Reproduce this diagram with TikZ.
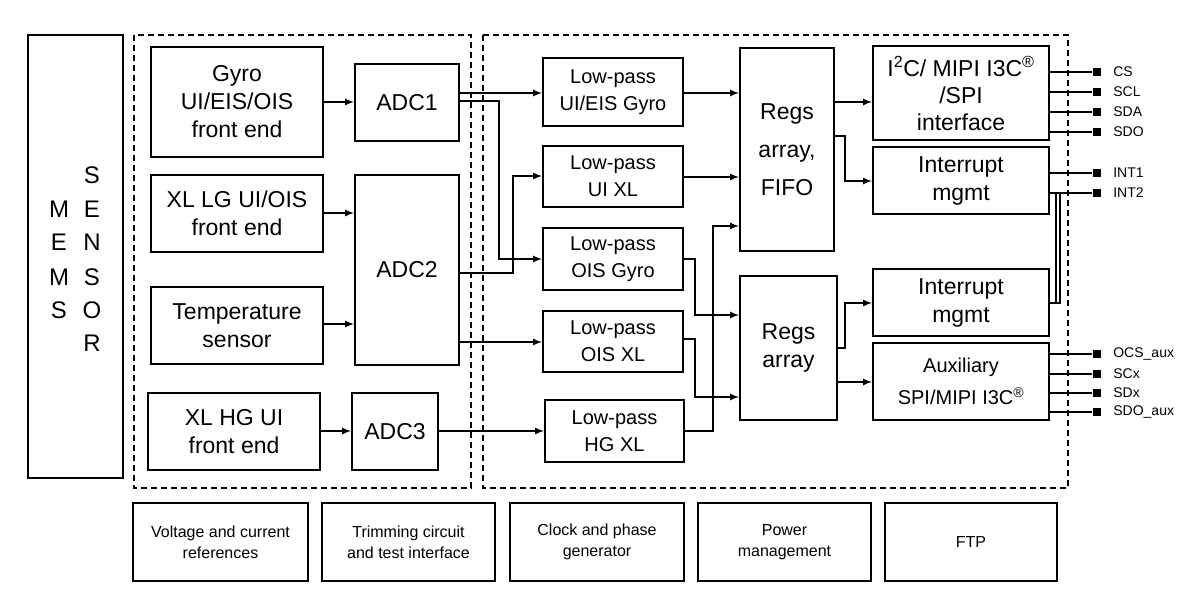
\documentclass[tikz,border=0pt]{standalone}
\usepackage{fontspec}
\setmainfont{Liberation Sans}
\begin{document}
\begin{tikzpicture}[x=1pt,y=-1pt,line width=2pt,
 blk/.style={draw,align=center,inner sep=0pt,font=\fontsize{23}{28}\selectfont},
 lp/.style={blk,font=\fontsize{20}{27}\selectfont},
 bot/.style={blk,line width=1.6pt,font=\fontsize{16}{21}\selectfont},
 dsh/.style={draw,dash pattern=on 6pt off 4pt,line width=1.8pt},
 arr/.style={-latex},
 pin/.style={fill,minimum size=8pt,inner sep=0pt},
 pl/.style={anchor=west,font=\fontsize{14}{16}\selectfont},
 letter/.style={font=\fontsize{24}{26}\selectfont}]
\useasboundingbox (0,0) rectangle (1200,590);
\newcommand{\bx}[6][blk]{\node[#1,minimum width=#4-#2,minimum height=#5-#3] (#6) at ({(#2+#4)/2},{(#3+#5)/2})}
% MEMS sensor
\draw (28,35) rectangle (123,478);
\foreach \t/\y [count=\i] in {M/209,E/242,M/277,S/310} \node[letter] (m\i) at (59,\y) {\t};
\foreach \t/\y [count=\i] in {S/175,E/209,N/242,S/277,O/310,R/343} \node[letter] (s\i) at (92,\y) {\t};
% dashed
\draw[dsh] (134,35) rectangle (471,488);
\draw[dsh] (483,35) rectangle (1068,488);
% front ends
\bx{151}{47}{323}{157}{gyro} {Gyro\\UI/EIS/OIS\\front end};
\bx{151}{175}{323}{252}{xllg} {XL LG UI/OIS\\front end};
\bx{151}{287}{323}{364}{temp} {Temperature\\sensor};
\bx{148}{393}{320}{470}{xlhg} {XL HG UI\\front end};
\bx{355}{64}{459}{141}{adc1} {ADC1};
\bx{355}{175}{459}{365}{adc2} {ADC2};
\bx{352}{393}{438}{470}{adc3} {ADC3};
% low pass
\bx[lp]{543}{58}{683}{126}{lp1} {Low-pass\\UI/EIS Gyro};
\bx[lp]{543}{146}{683}{207}{lp2} {Low-pass\\UI XL};
\bx[lp]{543}{228}{683}{290}{lp3} {Low-pass\\OIS Gyro};
\bx[lp]{543}{311}{683}{372}{lp4} {Low-pass\\OIS XL};
\bx[lp]{545}{400}{684}{462}{lp5} {Low-pass\\HG XL};
\bx[blk,font=\fontsize{23}{38}\selectfont]{740}{48}{834}{251}{regf} {Regs\\array,\\FIFO};
\bx{740}{276}{837}{420}{rega} {Regs\\array};
\bx[blk,font=\fontsize{23}{27}\selectfont]{873}{46}{1049}{140}{i2c} {I\textsuperscript{2}C/ MIPI I3C\textsuperscript{\textregistered}\\/SPI\\interface};
\bx{873}{147}{1049}{214}{int1} {Interrupt\\mgmt};
\bx{873}{269}{1049}{336}{int2} {Interrupt\\mgmt};
\bx[blk,font=\fontsize{20}{32}\selectfont]{873}{343}{1049}{420}{aux} {Auxiliary\\SPI/MIPI I3C\textsuperscript{\textregistered}};
% bottom
\bx[bot]{133}{503}{308}{581}{b1} {Voltage and current\\references};
\bx[bot]{322}{503}{495}{581}{b2} {Trimming circuit\\and test interface};
\bx[bot]{510}{503}{684}{581}{b3} {Clock and phase\\generator};
\bx[bot]{698}{503}{871}{581}{b4} {Power\\management};
\bx[bot]{885}{503}{1057}{581}{b5} {FTP};
% connectors front->adc
\draw[arr] (gyro.east|-0,102) -- (adc1.west|-0,102);
\draw[arr] (xllg.east|-0,213) -- (adc2.west|-0,213);
\draw[arr] (temp.east|-0,324) -- (adc2.west|-0,324);
\draw[arr] (xlhg.east|-0,431) -- (adc3.west|-0,431);
% adc->lp
\draw[arr] (adc1.east|-0,93) -- (lp1.west|-0,93);
\draw[arr] (adc1.east|-0,101) -| (499,259) -- (lp3.west|-0,259);
\draw[arr] (adc2.east|-0,273) -| (513,176) -- (lp2.west|-0,176);
\draw[arr] (adc2.east|-0,342) -- (lp4.west|-0,342);
\draw[arr] (adc3.east|-0,431) -- (lp5.west|-0,431);
% lp->regs
\draw[arr] (lp1.east|-0,93) -- (regf.west|-0,93);
\draw[arr] (lp2.east|-0,177) -- (regf.west|-0,177);
\draw[arr] (lp5.east|-0,431) -| (713,226) -- (regf.west|-0,226);
\draw[arr] (lp3.east|-0,259) -| (695,315) -- (rega.west|-0,315);
\draw[arr] (lp4.east|-0,339) -| (695,397) -- (rega.west|-0,397);
% regs->right
\draw[arr] (regf.east|-0,102) -- (i2c.west|-0,102);
\draw[arr] (regf.east|-0,136) -| (845,181) -- (int1.west|-0,181);
\draw[arr] (rega.east|-0,348) -| (845,303) -- (int2.west|-0,303);
\draw[arr] (rega.east|-0,382) -- (aux.west|-0,382);
% pins
\foreach \n/\t/\y/\s in {p1/CS/72/i2c,p2/SCL/92/i2c,p3/SDA/112/i2c,p4/SDO/132/i2c,p5/INT1/173/int1,p6/INT2/193/int1,p7/OCS\_aux/354/aux,p8/SCx/374/aux,p9/SDx/393/aux,p10/SDO\_aux/412/aux}{
 \node[pin] (\n) at (1097,\y) {};
 \node[pl] (\n l) at (1109,\y) {\t};
 \draw[line width=1.6pt] (\s.east|-\n) -- (\n);
}
\draw[line width=1.6pt] (int2.east|-0,303) -- (1060,303) -- (1060,193);
\draw[line width=1.6pt] (1056,193) -- (1056,303);
\end{tikzpicture}
\end{document}
